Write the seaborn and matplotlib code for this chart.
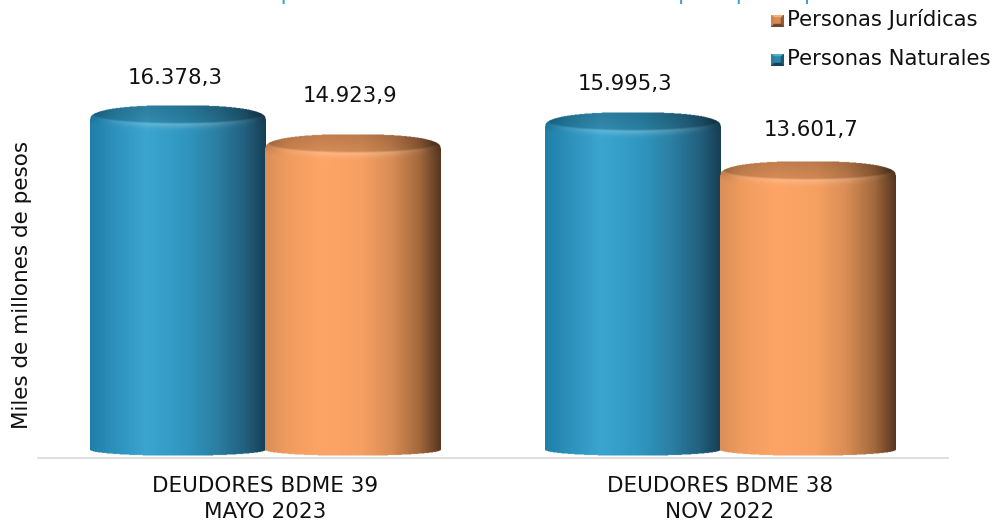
import numpy as np
import pandas as pd
import seaborn as sns
import matplotlib
matplotlib.use('Agg')
import matplotlib.pyplot as plt

categories = ['DEUDORES BDME 39\nMAYO 2023', 'DEUDORES BDME 38\nNOV 2022']
naturales = [16378.3, 15995.3]
juridicas = [14923.9, 13601.7]
series_names = ['Personas Naturales', 'Personas Jurídicas']
y_title = 'Miles de millones de pesos'
# the title is cut off by the top edge in the reference, wording is a guess
title = 'Monto de la cartera por saldos de los deudores en mora por tipo de persona'

W, H = 996, 525
PX_PER_UNIT = 0.02045
BLUE_STOPS = ['#1f7fa8', '#2b8fb9', '#3ba5d0', '#3096bf', '#2b7fa3', '#22607e', '#163f55']
ORANGE_STOPS = ['#d98f57', '#f09b5e', '#fda566', '#f6a062', '#d98d55', '#a2683c', '#573621']
STOP_POS = [0.0, 0.12, 0.32, 0.55, 0.72, 0.88, 1.0]
# label offsets from the bar top centre, px
label_gaps = [27, 39, 29, 32]
label_shift = [-2, -3, -7, 4]


def hex_rgb(c):
    return np.array(matplotlib.colors.to_rgb(c))


def cylinder_image(w_px, h_px, stops, ry=10.0, ry_bot=6.0, ss=2):
    # pixel image of one cylinder, rows run from the top of the cap to the bottom of the base
    nx = int(w_px * ss)
    total = h_px + ry + ry_bot
    ny = int(total * ss)
    u = np.linspace(-1, 1, nx)
    y = np.linspace(0, total, ny)
    uu, yy = np.meshgrid(u, y)
    cols = np.array([hex_rgb(c) for c in stops])
    base = np.stack([np.interp((uu + 1) / 2, STOP_POS, cols[:, i]) for i in range(3)], axis=-1)
    # silhouette with rounded shoulders
    top_edge = ry * 1.4 - ry * 1.4 * (1 - np.abs(uu) ** 2.4) ** (1 / 2.4)
    bot_edge = ry + h_px + ry_bot * np.sqrt(1 - uu ** 2)
    alpha = ((yy >= top_edge) & (yy <= bot_edge)).astype(float)
    # darker cap and the lit rim just under it
    cap_cy = ry * 0.9
    cap_rx = 0.96
    front = cap_cy + ry * 0.9 * np.sqrt(np.clip(1 - (uu / cap_rx) ** 2, 0, 1))
    d = yy - front
    cap_soft = np.clip(-d / 2.0 + 0.5, 0, 1)
    depth = 0.76 + 0.10 * (yy / (2 * ry))
    shade = 1 - (1 - depth) * cap_soft
    rgb = base * shade[..., None]
    glow = np.exp(-(np.clip(d, 0, None) / 4.5) ** 2) * (1 - cap_soft) * (1 - uu ** 2) ** 1.2 * 0.22
    rgb = rgb + (1 - rgb) * glow[..., None]
    # shoulder shading at the far edges of the rim
    near_top = np.clip(1 - np.clip(yy - front, 0, None) / 10, 0, 1) * np.abs(uu) ** 8
    rgb = rgb * (1 - 0.18 * near_top[..., None])
    return np.dstack([np.clip(rgb, 0, 1), alpha])


def bevel_swatch(color):
    # small legend square with four bevelled faces
    n = 24
    g = np.linspace(-1, 1, n)
    xx, yy = np.meshgrid(g, g)
    c = hex_rgb(color)
    img = np.zeros((n, n, 3))
    img[:] = c
    img[(np.abs(xx) > np.abs(yy)) & (xx > 0)] = c * 0.6
    img[(np.abs(xx) > np.abs(yy)) & (xx < 0)] = c * 0.85
    img[(np.abs(yy) >= np.abs(xx)) & (yy > 0)] = c * 0.45
    img[(np.abs(yy) >= np.abs(xx)) & (yy < 0)] = c + (1 - c) * 0.2
    inner = (np.abs(xx) < 0.5) & (np.abs(yy) < 0.5)
    img[inner] = c * 0.9
    return img


df = pd.DataFrame({
    'Periodo': categories * 2,
    'Tipo': [series_names[0]] * 2 + [series_names[1]] * 2,
    'Valor': naturales + juridicas,
})

sns.set_theme(style='white')
plt.rcParams['font.family'] = ['DejaVu Sans']

fig = plt.figure(figsize=(W / 100, H / 100), dpi=100)
ax_left, ax_right, ax_bottom, ax_top = 37.5, 947.5, 458, 40
ax = fig.add_axes([ax_left / W, 1 - ax_bottom / H, (ax_right - ax_left) / W, (ax_bottom - ax_top) / H])

sns.barplot(data=df, x='Periodo', y='Valor', hue='Tipo', hue_order=series_names,
            palette=['#3096bf', '#f09b5e'], width=0.77, gap=0, legend=False, ax=ax, saturation=1)

ymin = -8 / PX_PER_UNIT
ymax = ymin + (ax_bottom - ax_top) / PX_PER_UNIT
ax.set_xlim(-0.5, 1.5)
ax.set_ylim(ymin, ymax)

unit_px = (ax_right - ax_left) / 2
bars = []
for container, stops in zip(ax.containers, [BLUE_STOPS, ORANGE_STOPS]):
    for patch in container:
        bars.append((patch, stops))

for patch, stops in bars:
    patch.set_alpha(0)
    x0, w, val = patch.get_x(), patch.get_width(), patch.get_height()
    ry, ry_bot = 10.0, 6.0
    img = cylinder_image(w * unit_px, val * PX_PER_UNIT, stops, ry, ry_bot)
    ax.imshow(img, extent=(x0, x0 + w, -ry_bot / PX_PER_UNIT, val + ry / PX_PER_UNIT),
              aspect='auto', zorder=3, interpolation='antialiased', interpolation_stage='rgba')

# labels in the order of the bars in the picture
order = [bars[0], bars[2], bars[1], bars[3]]
for (patch, _), gap, shift in zip(order, label_gaps, label_shift):
    val = patch.get_height()
    txt = f'{val:,.1f}'.replace(',', 'X').replace('.', ',').replace('X', '.')
    ax.annotate(txt, (patch.get_x() + patch.get_width() / 2, val + 10 / PX_PER_UNIT),
                xytext=(shift * 0.72, gap * 0.72), textcoords='offset points', ha='center', va='center',
                fontsize=15.3, color='#111111', zorder=5, annotation_clip=False)

ax.set_xlim(-0.5, 1.5)
ax.set_ylim(ymin, ymax)
ax.set_xlabel('')
ax.set_ylabel(y_title, fontsize=15.5, color='#111111')
ax.yaxis.set_label_coords((32 - ax_left) / (ax_right - ax_left), (ax_bottom - 285) / (ax_bottom - ax_top))
ax.set_yticks([])
ax.tick_params(axis='x', length=0, labelsize=15.5, labelcolor='#111111', pad=13.2)
for lab in ax.get_xticklabels():
    lab.set_linespacing(1.35)
sns.despine(ax=ax, left=True)
ax.spines['bottom'].set_color('#d9d9d9')
ax.spines['bottom'].set_linewidth(1.2)
ax.patch.set_alpha(0)

fig.text(60 / W, 1 - 0.5 / H, title, fontsize=15.7, color='#3fa0cc', va='baseline', ha='left')

# legend, Juridicas on top
legend_rows = [(series_names[1], '#f09b5e', 20), (series_names[0], '#3096bf', 59)]
for name, color, yc in legend_rows:
    sw = fig.add_axes([771 / W, 1 - (yc + 7) / H, 12 / W, 12 / H])
    sw.imshow(bevel_swatch(color), aspect='auto')
    sw.axis('off')
    fig.text(787 / W, 1 - yc / H, name, fontsize=15.2, color='#111111', va='center', ha='left')

fig.savefig('out.png', dpi=100)
